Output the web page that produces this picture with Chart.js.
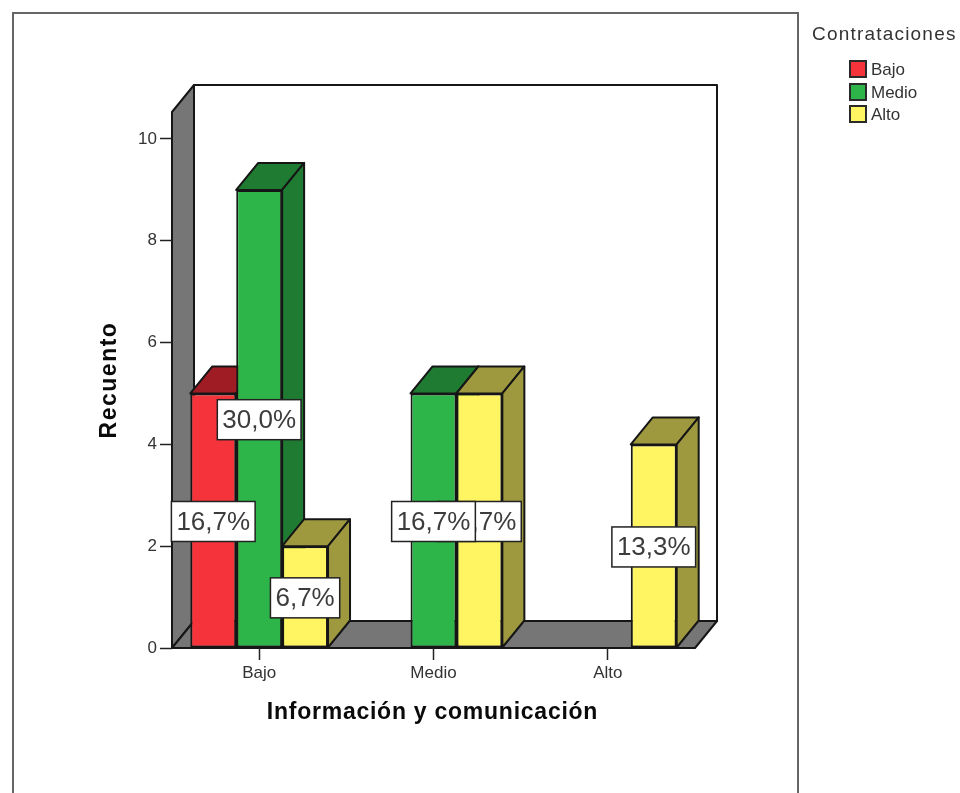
<!DOCTYPE html>
<html>
<head>
<meta charset="utf-8">
<title>Contrataciones</title>
<script src="https://cdn.jsdelivr.net/npm/chart.js@4"></script>
<style>
  body { margin: 0; background: #fff; }
  canvas { display: block; }
</style>
</head>
<body>
<canvas id="my-chart" width="960" height="793"></canvas>
<script>
// chart values
var categories = ['Bajo', 'Medio', 'Alto'];
var seriesNames = ['Bajo', 'Medio', 'Alto'];
var bajoCounts = [5, null, null];
var medioCounts = [9, 5, null];
var altoCounts = [2, 5, 4];
var bajoLabels = ['16,7%', null, null];
var medioLabels = ['30,0%', '16,7%', null];
var altoLabels = ['6,7%', '16,7%', '13,3%'];
var yTicks = [0, 2, 4, 6, 8, 10];

// colours: front face, top and side face
var frontColors = ['#f5333b', '#2db54a', '#fff462'];
var sideColors = ['#a01c24', '#1f7a32', '#9e993f'];
var pointLabels = [bajoLabels, medioLabels, altoLabels];

var edge = '#161616';
var wallColor = '#767676';
var depthX = 22;
var depthY = 27;

function poly(ctx, pts, fill) {
    ctx.beginPath();
    ctx.moveTo(pts[0][0], pts[0][1]);
    for (var i = 1; i < pts.length; i++) ctx.lineTo(pts[i][0], pts[i][1]);
    ctx.closePath();
    if (fill) {
        ctx.fillStyle = fill;
        ctx.fill();
    }
    ctx.stroke();
}

// outer frame, side wall, floor and back wall
var boxPlugin = {
    id: 'box',
    beforeDraw: function(chart) {
        var ctx = chart.ctx, a = chart.chartArea;
        ctx.save();
        ctx.fillStyle = '#fff';
        ctx.fillRect(0, 0, chart.width, chart.height);
        ctx.strokeStyle = '#666';
        ctx.lineWidth = 2;
        ctx.strokeRect(13, 13, 785, 800);

        ctx.strokeStyle = edge;
        ctx.lineJoin = 'round';
        poly(ctx, [[a.left + depthX, a.top - depthY], [a.right + depthX, a.top - depthY],
                   [a.right + depthX, a.bottom - depthY], [a.left + depthX, a.bottom - depthY]], '#fff');
        poly(ctx, [[a.left, a.top], [a.left + depthX, a.top - depthY],
                   [a.left + depthX, a.bottom - depthY], [a.left, a.bottom]], wallColor);
        poly(ctx, [[a.left, a.bottom], [a.left + depthX, a.bottom - depthY],
                   [a.right + depthX, a.bottom - depthY], [a.right, a.bottom]], wallColor);
        ctx.restore();
    },
    // top and side faces of the bars, the fronts come from the library
    beforeDatasetsDraw: function(chart) {
        var ctx = chart.ctx;
        ctx.save();
        ctx.strokeStyle = edge;
        ctx.lineWidth = 2;
        ctx.lineJoin = 'round';
        chart.data.datasets.forEach(function(ds, d) {
            chart.getDatasetMeta(d).data.forEach(function(bar, i) {
                if (ds.data[i] == null) return;
                var l = bar.x - bar.width / 2, r = bar.x + bar.width / 2;
                poly(ctx, [[l, bar.y], [l + depthX, bar.y - depthY],
                           [r + depthX, bar.y - depthY], [r, bar.y]], sideColors[d]);
                poly(ctx, [[r, bar.y], [r + depthX, bar.y - depthY],
                           [r + depthX, bar.base - depthY], [r, bar.base]], sideColors[d]);
            });
        });
        ctx.restore();
    },
    // percentage boxes, last series first so the earlier ones sit on top
    afterDatasetsDraw: function(chart) {
        var ctx = chart.ctx;
        ctx.save();
        ctx.font = '26px "Liberation Sans"';
        ctx.textAlign = 'center';
        ctx.textBaseline = 'middle';
        for (var d = chart.data.datasets.length - 1; d >= 0; d--) {
            chart.getDatasetMeta(d).data.forEach(function(bar, i) {
                var txt = pointLabels[d][i];
                if (!txt) return;
                var cy = (bar.y + bar.base) / 2 + 1;
                var w = ctx.measureText(txt).width + 10;
                ctx.fillStyle = '#fff';
                ctx.fillRect(bar.x - w / 2, cy - 20, w, 40);
                ctx.strokeStyle = '#222';
                ctx.lineWidth = 1.5;
                ctx.strokeRect(bar.x - w / 2, cy - 20, w, 40);
                ctx.fillStyle = '#3c3c3c';
                ctx.fillText(txt, bar.x, cy + 1);
            });
        }
        ctx.restore();
    },
    // axis titles and the legend on the right
    afterDraw: function(chart) {
        var ctx = chart.ctx, a = chart.chartArea;
        ctx.save();
        ctx.textBaseline = 'middle';

        ctx.fillStyle = '#0a0a0a';
        ctx.textAlign = 'center';
        ctx.font = 'bold 23px "Liberation Sans"';
        ctx.letterSpacing = '0.75px';
        ctx.fillText('Información y comunicación', (a.left + a.right) / 2 - 1, 713);
        ctx.letterSpacing = '1.5px';
        ctx.save();
        ctx.translate(109.5, (a.top + a.bottom) / 2);
        ctx.rotate(-Math.PI / 2);
        ctx.fillText('Recuento', 0, 0);
        ctx.restore();

        ctx.textAlign = 'left';
        ctx.fillStyle = '#333';
        ctx.font = '19px "Liberation Sans"';
        ctx.letterSpacing = '1.2px';
        ctx.fillText('Contrataciones', 812, 35);
        ctx.letterSpacing = '0px';
        ctx.font = '17px "Liberation Sans"';
        var rowY = [69, 92, 114];
        seriesNames.forEach(function(name, i) {
            ctx.fillStyle = frontColors[i];
            ctx.fillRect(850, rowY[i] - 8, 16, 16);
            ctx.strokeStyle = '#2a2a2a';
            ctx.lineWidth = 2;
            ctx.strokeRect(850, rowY[i] - 8, 16, 16);
            ctx.fillStyle = '#333';
            ctx.fillText(name, 871, rowY[i] + 1);
        });
        ctx.restore();
    }
};

function makeDataset(i, values) {
    return {
        label: seriesNames[i],
        data: values,
        backgroundColor: frontColors[i],
        borderColor: edge,
        borderWidth: 2,
        borderSkipped: false,
        barPercentage: 1,
        categoryPercentage: 0.79
    };
}

new Chart(document.getElementById('my-chart').getContext('2d'), {
    type: 'bar',
    data: {
        labels: categories,
        datasets: [
            makeDataset(0, bajoCounts),
            makeDataset(1, medioCounts),
            makeDataset(2, altoCounts)
        ]
    },
    plugins: [boxPlugin],
    options: {
        responsive: false,
        animation: false,
        layout: { padding: { top: 112, right: 265, left: 0, bottom: 0 } },
        plugins: { legend: { display: false }, tooltip: { enabled: false } },
        scales: {
            x: {
                afterFit: function(axis) { axis.height = 145; },
                border: { display: false },
                grid: { drawOnChartArea: false, offset: false, tickLength: 12, tickColor: '#222', tickWidth: 1.5 },
                ticks: { color: '#333', padding: 3, font: { family: 'Liberation Sans', size: 17 }, maxRotation: 0 }
            },
            y: {
                min: 0,
                max: 10.53,
                afterFit: function(axis) { axis.width = 172; },
                afterBuildTicks: function(axis) {
                    axis.ticks = yTicks.map(function(v) { return { value: v }; });
                },
                border: { display: false },
                grid: { drawOnChartArea: false, tickLength: 12, tickColor: '#222', tickWidth: 1.5 },
                ticks: { color: '#333', padding: 3, font: { family: 'Liberation Sans', size: 17 } }
            }
        }
    }
});
</script>
</body>
</html>
